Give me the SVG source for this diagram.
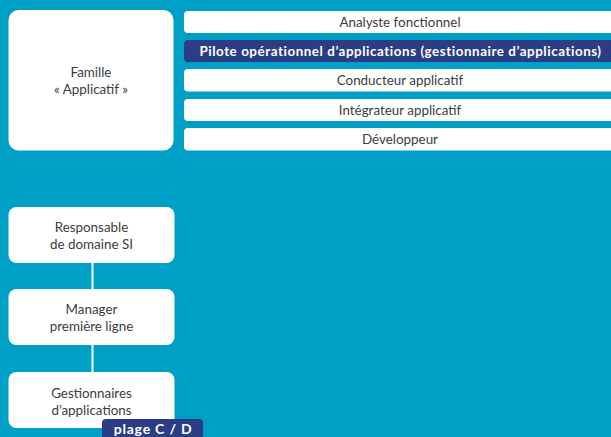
<svg xmlns="http://www.w3.org/2000/svg" width="611" height="437" viewBox="0 0 611 437">
<style>
.box{fill:#ffffff}
.bar{fill:#ffffff}
.dark{fill:#2b3d84}
.t{font-family:"Lato","Liberation Sans",sans-serif;font-size:13.4px;fill:#3c3c3c;text-anchor:middle}
.tb{font-family:"Lato","Liberation Sans",sans-serif;font-size:13.4px;font-weight:bold;fill:#ffffff;text-anchor:middle;letter-spacing:0.55px}
.tc{font-family:"Lato","Liberation Sans",sans-serif;font-size:14px;font-weight:bold;fill:#ffffff;text-anchor:middle;letter-spacing:0.8px}
.conn{stroke:#ffffff;stroke-width:2;fill:none}
</style>
<rect x="0" y="0" width="611" height="437" fill="#00a0c6"/>
<g id="connectors">
<line class="conn" x1="92.5" y1="263" x2="92.5" y2="289"/>
<line class="conn" x1="92.5" y1="345" x2="92.5" y2="372"/>
</g>
<g id="famille">
<rect class="box" x="8.5" y="10" width="165" height="140.5" rx="10"/>
<text class="t" x="91" y="77">Famille</text>
<text class="t" x="91" y="93.5">« Applicatif »</text>
</g>
<g id="analyste">
<rect class="bar" x="184" y="11" width="434" height="22" rx="4"/>
<text class="t" x="400" y="26.5">Analyste fonctionnel</text>
</g>
<g id="pilote">
<rect class="dark" x="184" y="40" width="434" height="22" rx="4"/>
<text class="tb" x="400.5" y="55.5">Pilote opérationnel d’applications (gestionnaire d’applications)</text>
</g>
<g id="conducteur">
<rect class="bar" x="184" y="69" width="434" height="22.5" rx="4"/>
<text class="t" x="400" y="85">Conducteur applicatif</text>
</g>
<g id="integrateur">
<rect class="bar" x="184" y="99" width="434" height="22" rx="4"/>
<text class="t" x="400" y="114.5">Intégrateur applicatif</text>
</g>
<g id="developpeur">
<rect class="bar" x="184" y="128" width="434" height="22.5" rx="4"/>
<text class="t" x="400" y="144">Développeur</text>
</g>
<g id="responsable">
<rect class="box" x="8.5" y="207" width="166" height="56" rx="8"/>
<text class="t" x="91.5" y="231.5">Responsable</text>
<text class="t" x="91.5" y="248.5">de domaine SI</text>
</g>
<g id="manager">
<rect class="box" x="8.5" y="289" width="166" height="56" rx="8"/>
<text class="t" x="91.5" y="314">Manager</text>
<text class="t" x="91.5" y="331">première ligne</text>
</g>
<g id="gestionnaires">
<rect class="box" x="8.5" y="372" width="166" height="56" rx="8"/>
<text class="t" x="91.5" y="397.5">Gestionnaires</text>
<text class="t" x="91.5" y="414.5">d’applications</text>
</g>
<g id="plage">
<rect class="dark" x="102" y="419" width="101" height="26" rx="4"/>
<text class="tc" x="153" y="434">plage C / D</text>
</g>
</svg>
